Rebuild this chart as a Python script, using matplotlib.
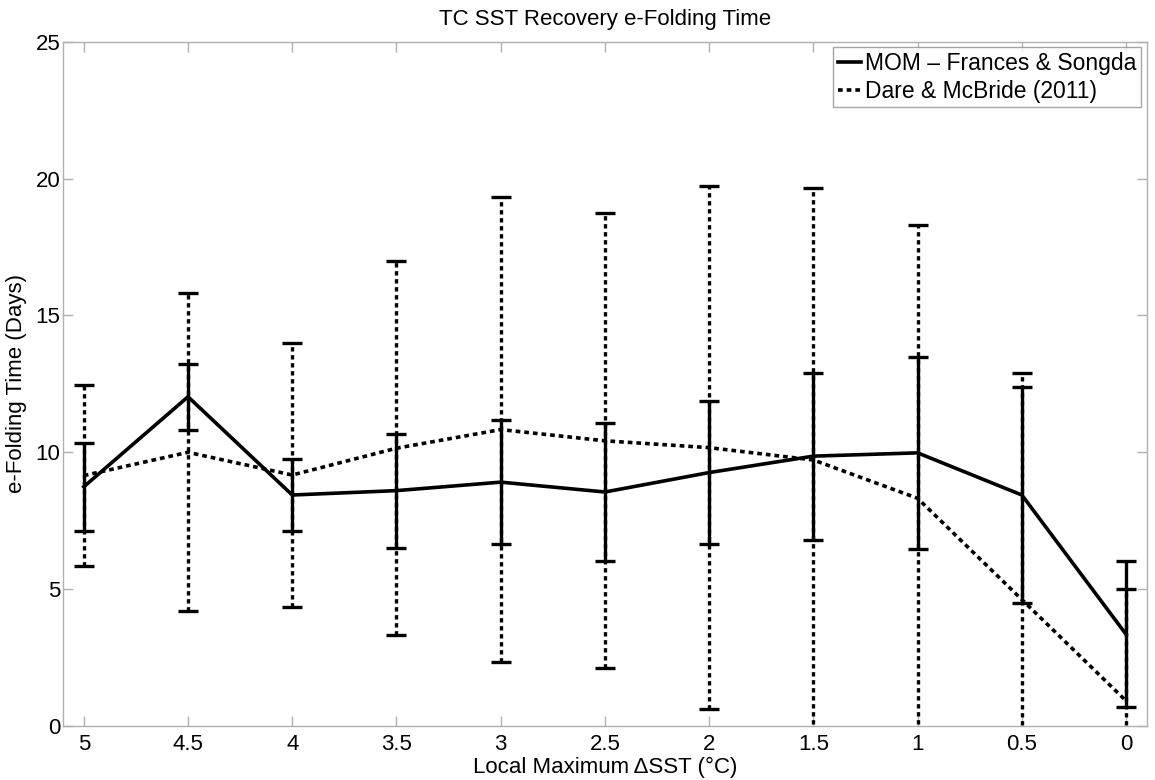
import matplotlib
matplotlib.use("Agg")
import matplotlib.pyplot as plt
from matplotlib.lines import Line2D

plt.rcParams['font.family'] = ['Liberation Sans', 'DejaVu Sans']

# Data
delta_sst = [5, 4.5, 4, 3.5, 3, 2.5, 2, 1.5, 1, 0.5, 0]
xtick_labels = ['5', '4.5', '4', '3.5', '3', '2.5', '2', '1.5', '1', '0.5', '0']
mom_values = [8.74, 12.03, 8.44, 8.60, 8.91, 8.55, 9.26, 9.86, 9.98, 8.44, 3.35]
mom_err = [1.60, 1.20, 1.33, 2.08, 2.26, 2.53, 2.60, 3.05, 3.50, 3.95, 2.67]
dare_values = [9.15, 10.0, 9.17, 10.15, 10.83, 10.42, 10.17, 9.72, 8.32, 4.62, 0.92]
dare_err = [3.30, 5.81, 4.81, 6.83, 8.48, 8.31, 9.56, 9.94, 10.00, 8.28, 4.08]
series_names = ['MOM \u2013 Frances & Songda', 'Dare & McBride (2011)']

fig = plt.figure(figsize=(11.55, 7.8), dpi=100)
ax = fig.add_axes([0.0545, 0.0692, 0.9385, 0.8773])

dot = (0, (1.3, 1.1))

eb_d = ax.errorbar(delta_sst, dare_values, yerr=dare_err, color='black', lw=2.6,
                   linestyle=dot, capsize=7.5, capthick=2.4, elinewidth=2.4,
                   label=series_names[1], zorder=2)
eb_d[2][0].set_linestyle(dot)

eb_m = ax.errorbar(delta_sst, mom_values, yerr=mom_err, color='black', lw=2.6,
                   linestyle='-', capsize=7.5, capthick=2.4, elinewidth=2.4,
                   label=series_names[0], zorder=3)

ax.set_xlim(5.1, -0.1)
ax.set_ylim(0, 25)
ax.set_xticks(delta_sst)
ax.set_xticklabels(xtick_labels)
ax.set_yticks([0, 5, 10, 15, 20, 25])

for s in ax.spines.values():
    s.set_color('#b0b0b0')
    s.set_linewidth(1.0)
ax.tick_params(direction='in', length=7, width=1.0, color='#b0b0b0',
               labelsize=16, top=True, right=True)
ax.tick_params(axis='x', pad=6)
ax.tick_params(axis='y', pad=2)

ax.set_title('TC SST Recovery e-Folding Time', fontsize=16, pad=12)
ax.set_xlabel('Local Maximum\u2009\u0394SST (\u00b0C)', fontsize=16, labelpad=1)
ax.set_ylabel('e-Folding Time (Days)', fontsize=16, labelpad=6)

h1 = Line2D([], [], color='black', lw=2.6, linestyle='-')
h2 = Line2D([], [], color='black', lw=2.6, linestyle=dot)
leg = ax.legend([h1, h2], series_names, loc='upper right', fontsize=16.5,
                frameon=True, fancybox=False, handlelength=1.0, handletextpad=0.2,
                borderpad=0.2, labelspacing=0.2, borderaxespad=0.25)
leg.get_frame().set_edgecolor('#909090')
leg.get_frame().set_linewidth(1.0)

fig.savefig('out.png', dpi=100)
